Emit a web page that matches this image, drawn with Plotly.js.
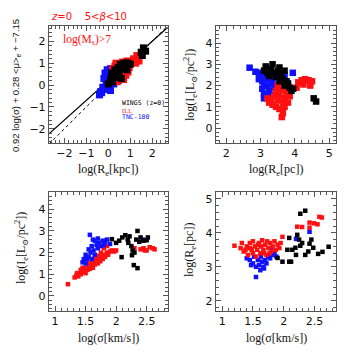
<!DOCTYPE html>
<html><head><meta charset="utf-8">
<script src="https://cdn.plot.ly/plotly-3.0.1.min.js"></script>
<style>body{margin:0;background:#fff}#c{width:351px;height:355px}</style>
</head><body><div id="c"></div>
<script>
// Panel 1: log(Re[kpc]) vs 0.92 log(sigma) + 0.28 <mu>_e - 7.15
const p1BlueX=[-0.35,-0.25,-0.3,-0.15,-0.1,0,0.05,-0.2,-0.15,-0.05,0.05,0.15,0.2,0.1,0.3,0.35,0.55,0.7,0.6,0.45,0.25,-0.4,0.1,0.5];
const p1BlueY=[-0.3,-0.1,-0.35,-0.2,0.05,-0.1,0.1,0.3,0.55,0.7,0.45,0.3,0.55,0.75,0.7,0.9,0.75,0.5,0.35,0.2,0.05,-0.45,-0.25,0.55];
const p1RedX=[0.1,0.2,0.3,0.4,0.55,0.7,0.8,0.5,0.35,0.3,0.65,0.85,0.95,1.05,1.15,1.3,1.4,1.25,0.75,0.9,0.2,0.6];
const p1RedY=[0.2,0.4,0.5,0.15,0.3,0.25,0.45,0.95,1.0,0.85,1.05,1.1,0.8,1.05,1.2,1.35,1.1,1.0,0.65,0.6,0.75,0.6];
const p1BlackX=[0,0.1,0.2,0.25,0.35,0.4,0.5,0.6,0.65,0.75,0.8,0.55,0.45,0.9,1.0,0.7,0.3,0.15,1.5,1.6,1.55,1.7,0.6,0.85];
const p1BlackY=[0.05,0.25,0.15,0.45,0.35,0.6,0.5,0.75,0.9,0.85,1.0,0.95,0.8,1.0,0.95,1.0,0.7,0.55,1.5,1.7,1.35,1.55,0.3,0.7];
const lineX=[-2.7,2.7];
const fitY=[-2.23,2.63];
const oneToOneY=[-2.7,2.7];

// Panel 2: log(Re[pc]) vs log(Ie)
const p2BlueX=[2.68,2.85,2.95,3.0,2.95,3.05,3.1,3.05,3.1,3.1,3.2,3.25,3.2,3.3,3.25,3.15,3.35,3.4,3.5,3.6,3.7,3.75,3.8,3.94,3.15,3.3];
const p2BlueY=[2.84,2.65,2.6,2.45,2.3,2.2,2.0,1.85,1.6,1.4,1.5,1.75,2.0,2.3,2.55,2.6,2.1,1.9,2.4,2.3,2.5,2.2,2.0,2.6,2.3,1.55];
const p2RedX=[3.2,3.25,3.35,3.45,3.5,3.55,3.6,3.45,3.4,3.65,3.7,3.75,3.8,3.85,3.55,3.62,3.65,3.7,3.5,3.6,3.3,4.05,4.1,4.2,4.3,4.4,4.5,4.25,4.45,3.8];
const p2RedY=[1.4,1.2,1.1,1.0,1.3,1.55,1.8,1.75,1.5,1.2,1.4,1.7,1.95,1.5,0.9,0.52,0.7,1.0,2.0,2.15,1.3,1.9,2.15,2.25,2.3,2.25,2.2,2.05,2.0,1.2];
const p2BlackX=[3.1,3.15,3.2,3.3,3.35,3.4,3.45,3.5,3.55,3.6,3.7,3.65,3.55,3.7,3.75,3.85,3.9,3.95,3.8,4.55,4.62,3.25];
const p2BlackY=[2.7,2.9,2.6,2.8,3.0,2.6,2.4,2.7,2.85,2.55,2.7,2.3,2.2,2.0,2.2,1.9,1.75,1.85,2.1,1.4,1.25,2.45];

// Panel 3: log(sigma) vs log(Ie)
const p3RedX=[1.21,1.32,1.35,1.38,1.4,1.42,1.45,1.48,1.5,1.5,1.53,1.55,1.57,1.6,1.62,1.63,1.65,1.68,1.7,1.72,1.74,1.76,1.78,1.8,1.82,1.85,1.87,1.9,1.93,1.97,2.0,1.85,1.8,1.75,1.7,1.65,1.6,1.55,1.45,1.42,1.36,2.4,2.45,2.5,2.55,2.6,2.63,2.47,2.3];
const p3RedY=[0.54,0.85,0.95,0.9,1.05,1.0,1.1,1.2,1.05,1.3,1.2,1.35,1.25,1.4,1.3,1.55,1.45,1.6,1.5,1.7,1.6,1.8,1.7,1.9,1.8,2.0,1.9,2.05,2.1,2.05,2.1,2.3,2.2,2.0,1.85,1.75,1.6,1.5,1.3,1.2,1.05,2.15,2.2,2.1,2.25,2.2,2.15,2.1,2.2];
const p3BlueX=[1.57,1.62,1.65,1.7,1.68,1.6,1.55,1.5,1.47,1.45,1.52,1.58,1.63,1.7,1.72,1.75,1.78,1.82,1.85,1.8,1.65,1.55,1.5,1.9,2.44,1.6];
const p3BlueY=[2.82,2.6,2.55,2.65,2.35,2.3,2.15,1.9,1.7,1.55,1.7,2.0,2.1,2.2,2.45,2.3,2.55,2.5,2.6,2.35,1.9,1.8,1.5,2.4,2.6,1.7];
const p3BlackX=[1.93,2.0,2.05,2.1,2.09,2.15,2.19,2.22,2.25,2.27,2.26,2.29,2.33,2.35,2.35,2.38,2.4,2.45,2.5,2.3,2.2,2.52];
const p3BlackY=[2.62,2.45,2.55,2.7,1.79,2.8,2.6,2.75,2.3,2.1,1.88,1.42,2.6,1.28,3.0,2.5,2.7,2.55,2.57,2.0,2.45,2.7];

// Panel 4: log(sigma) vs log(Re[pc])
const p4RedX=[1.2,1.3,1.32,1.35,1.4,1.42,1.45,1.48,1.5,1.5,1.53,1.55,1.57,1.6,1.62,1.63,1.65,1.67,1.7,1.72,1.73,1.75,1.78,1.8,1.82,1.85,1.87,1.9,1.93,1.95,1.98,1.38,1.45,1.58,1.68,1.77,2.22,2.42,2.42,2.49,2.55,2.58,2.62,2.3];
const p4RedY=[3.62,3.55,3.7,3.45,3.6,3.35,3.7,3.5,3.4,3.75,3.6,3.3,3.5,3.7,3.4,3.6,3.78,3.5,3.65,3.35,3.75,3.55,3.7,3.45,3.6,3.75,3.5,3.65,3.55,3.7,3.88,3.5,3.55,3.65,3.4,3.4,4.18,4.3,4.15,4.28,4.25,4.47,4.45,4.17];
const p4BlueX=[1.4,1.45,1.5,1.52,1.55,1.58,1.6,1.62,1.65,1.67,1.7,1.72,1.75,1.78,1.82,1.85,1.88,1.55,1.47,1.63,1.68,1.8,2.2,2.42];
const p4BlueY=[3.25,3.2,3.1,3.3,3.0,3.2,3.05,2.9,3.15,3.0,3.2,3.1,3.3,3.25,3.35,3.4,3.3,2.7,3.05,3.3,2.95,3.55,3.82,4.03];
const p4BlackX=[2.27,2.35,2.09,2.22,2.25,2.42,2.48,2.06,2.14,1.98,2.09,2.12,1.9,2.2,2.35,2.19,2.27,2.73,2.63,2.56,2.3,2.4,2.45];
const p4BlackY=[4.56,4.65,3.85,3.94,3.8,3.68,3.56,3.5,3.5,3.15,3.15,3.15,3.26,3.35,3.35,3.56,3.62,3.59,3.44,3.38,3.7,3.45,3.8];

const BLUE='#1010ff', RED='#ff1010', BLACK='#000000';
function sc(x,y,c,sz,xa,ya){return {x:x,y:y,type:'scatter',mode:'markers',xaxis:xa,yaxis:ya,
  marker:{symbol:'square',size:sz,color:c,line:{width:0}},hoverinfo:'none',showlegend:false};}

const data=[
  {x:lineX,y:fitY,type:'scatter',mode:'lines',line:{color:'#000',width:1.2},xaxis:'x',yaxis:'y',showlegend:false},
  {x:lineX,y:oneToOneY,type:'scatter',mode:'lines',line:{color:'#000',width:1,dash:'dot'},xaxis:'x',yaxis:'y',showlegend:false},
  sc(p1BlueX,p1BlueY,BLUE,7,'x','y'),
  sc(p1RedX,p1RedY,RED,7,'x','y'),
  sc(p1BlackX,p1BlackY,BLACK,7,'x','y'),
  sc(p2BlueX,p2BlueY,BLUE,6.5,'x2','y2'),
  sc(p2RedX,p2RedY,RED,6.5,'x2','y2'),
  sc(p2BlackX,p2BlackY,BLACK,6.5,'x2','y2'),
  sc(p3RedX,p3RedY,RED,4.5,'x3','y3'),
  sc(p3BlueX,p3BlueY,BLUE,4.5,'x3','y3'),
  sc(p3BlackX,p3BlackY,BLACK,4.5,'x3','y3'),
  sc(p4BlueX,p4BlueY,BLUE,4.5,'x4','y4'),
  sc(p4RedX,p4RedY,RED,4.5,'x4','y4'),
  sc(p4BlackX,p4BlackY,BLACK,4.5,'x4','y4')
];

const W=351,H=355;
const px=v=>v/W, py=v=>1-v/H;
const AX='#555';
const tickFont={family:'DejaVu Sans, sans-serif',size:11,color:'#111'};
function ax(range,dtick,minor,domain,anchor){
  return {range:range,dtick:dtick,domain:domain,anchor:anchor,showgrid:false,zeroline:false,
    showline:true,linecolor:AX,linewidth:1.2,mirror:'allticks',ticks:'inside',ticklen:5,tickcolor:AX,tickwidth:1,
    minor:{ticks:'inside',ticklen:3,dtick:minor,tickcolor:AX,tickwidth:1,showgrid:false},
    tickfont:tickFont,fixedrange:true};
}
const dX1=[px(49),px(168)], dX2=[px(216),px(336)];
const dYt=[py(143),py(26)], dYb=[py(311),py(192)];
const layout={width:W,height:H,margin:{l:0,r:0,t:0,b:0},paper_bgcolor:'#fff',plot_bgcolor:'#fff',
  xaxis:ax([-2.7,2.72],1,0.2,dX1,'y'),
  yaxis:ax([-2.65,2.7],1,0.2,dYt,'x'),
  xaxis2:ax([1.7,5.2],1,0.2,dX2,'y2'),
  yaxis2:ax([-0.7,4.8],1,0.2,dYt,'x2'),
  xaxis3:ax([0.9,2.85],0.5,0.1,dX1,'y3'),
  yaxis3:ax([-0.7,4.8],1,0.2,dYb,'x3'),
  xaxis4:ax([0.9,2.85],0.5,0.1,dX2,'y4'),
  yaxis4:ax([1.7,5.2],1,0.2,dYb,'x4'),
  annotations:[]
};
const serif={family:'Liberation Serif, DejaVu Serif, serif',size:12,color:'#111'};
function ann(text,x,y,font,rot,xanchor){return {text:text,x:px(x),y:py(y),xref:'paper',yref:'paper',showarrow:false,
  font:font,textangle:rot||0,xanchor:xanchor||'center',yanchor:'middle',borderpad:0};}
layout.annotations.push(
  ann('log(R<sub>e</sub>[kpc])',108,170,serif),
  ann('log(R<sub>e</sub>[pc])',276,170,serif),
  ann('log(σ[km/s])',108,338,serif),
  ann('log(σ[km/s])',276,338,serif),
  ann('0.92 log(σ) + 0.28 &lt;μ&gt;<sub>e</sub> + −7.15',16,86,{family:'Liberation Sans, sans-serif',size:9.5,color:'#111'},-90),
  ann('log(I<sub>e</sub>[L<sub>⊙</sub>/pc<sup>2</sup>])',190,85,serif,-90),
  ann('log(I<sub>e</sub>[L<sub>⊙</sub>/pc<sup>2</sup>])',22,248,serif,-90),
  ann('log(R<sub>e</sub>[pc])',190,250,serif,-90),
  ann('<i>z</i>=0    5&lt;<i>β</i>&lt;10',50,16,{family:'DejaVu Sans, sans-serif',size:10,color:RED},0,'left'),
  ann('log(M<sub>s</sub>)&gt;7',62,40,{family:'Liberation Serif, serif',size:11.5,color:RED},0,'left'),
  ann('WINGS (z=0)',121,103,{family:'DejaVu Sans Mono, monospace',size:6.5,color:BLACK},0,'left'),
  ann('ILL',121,110,{family:'Liberation Serif, serif',size:6.5,color:RED},0,'left'),
  ann('TNC-100',121,117,{family:'DejaVu Sans Mono, monospace',size:6.5,color:BLUE},0,'left')
);
Plotly.newPlot('c',data,layout,{staticPlot:true,displayModeBar:false});
</script>
</body></html>
